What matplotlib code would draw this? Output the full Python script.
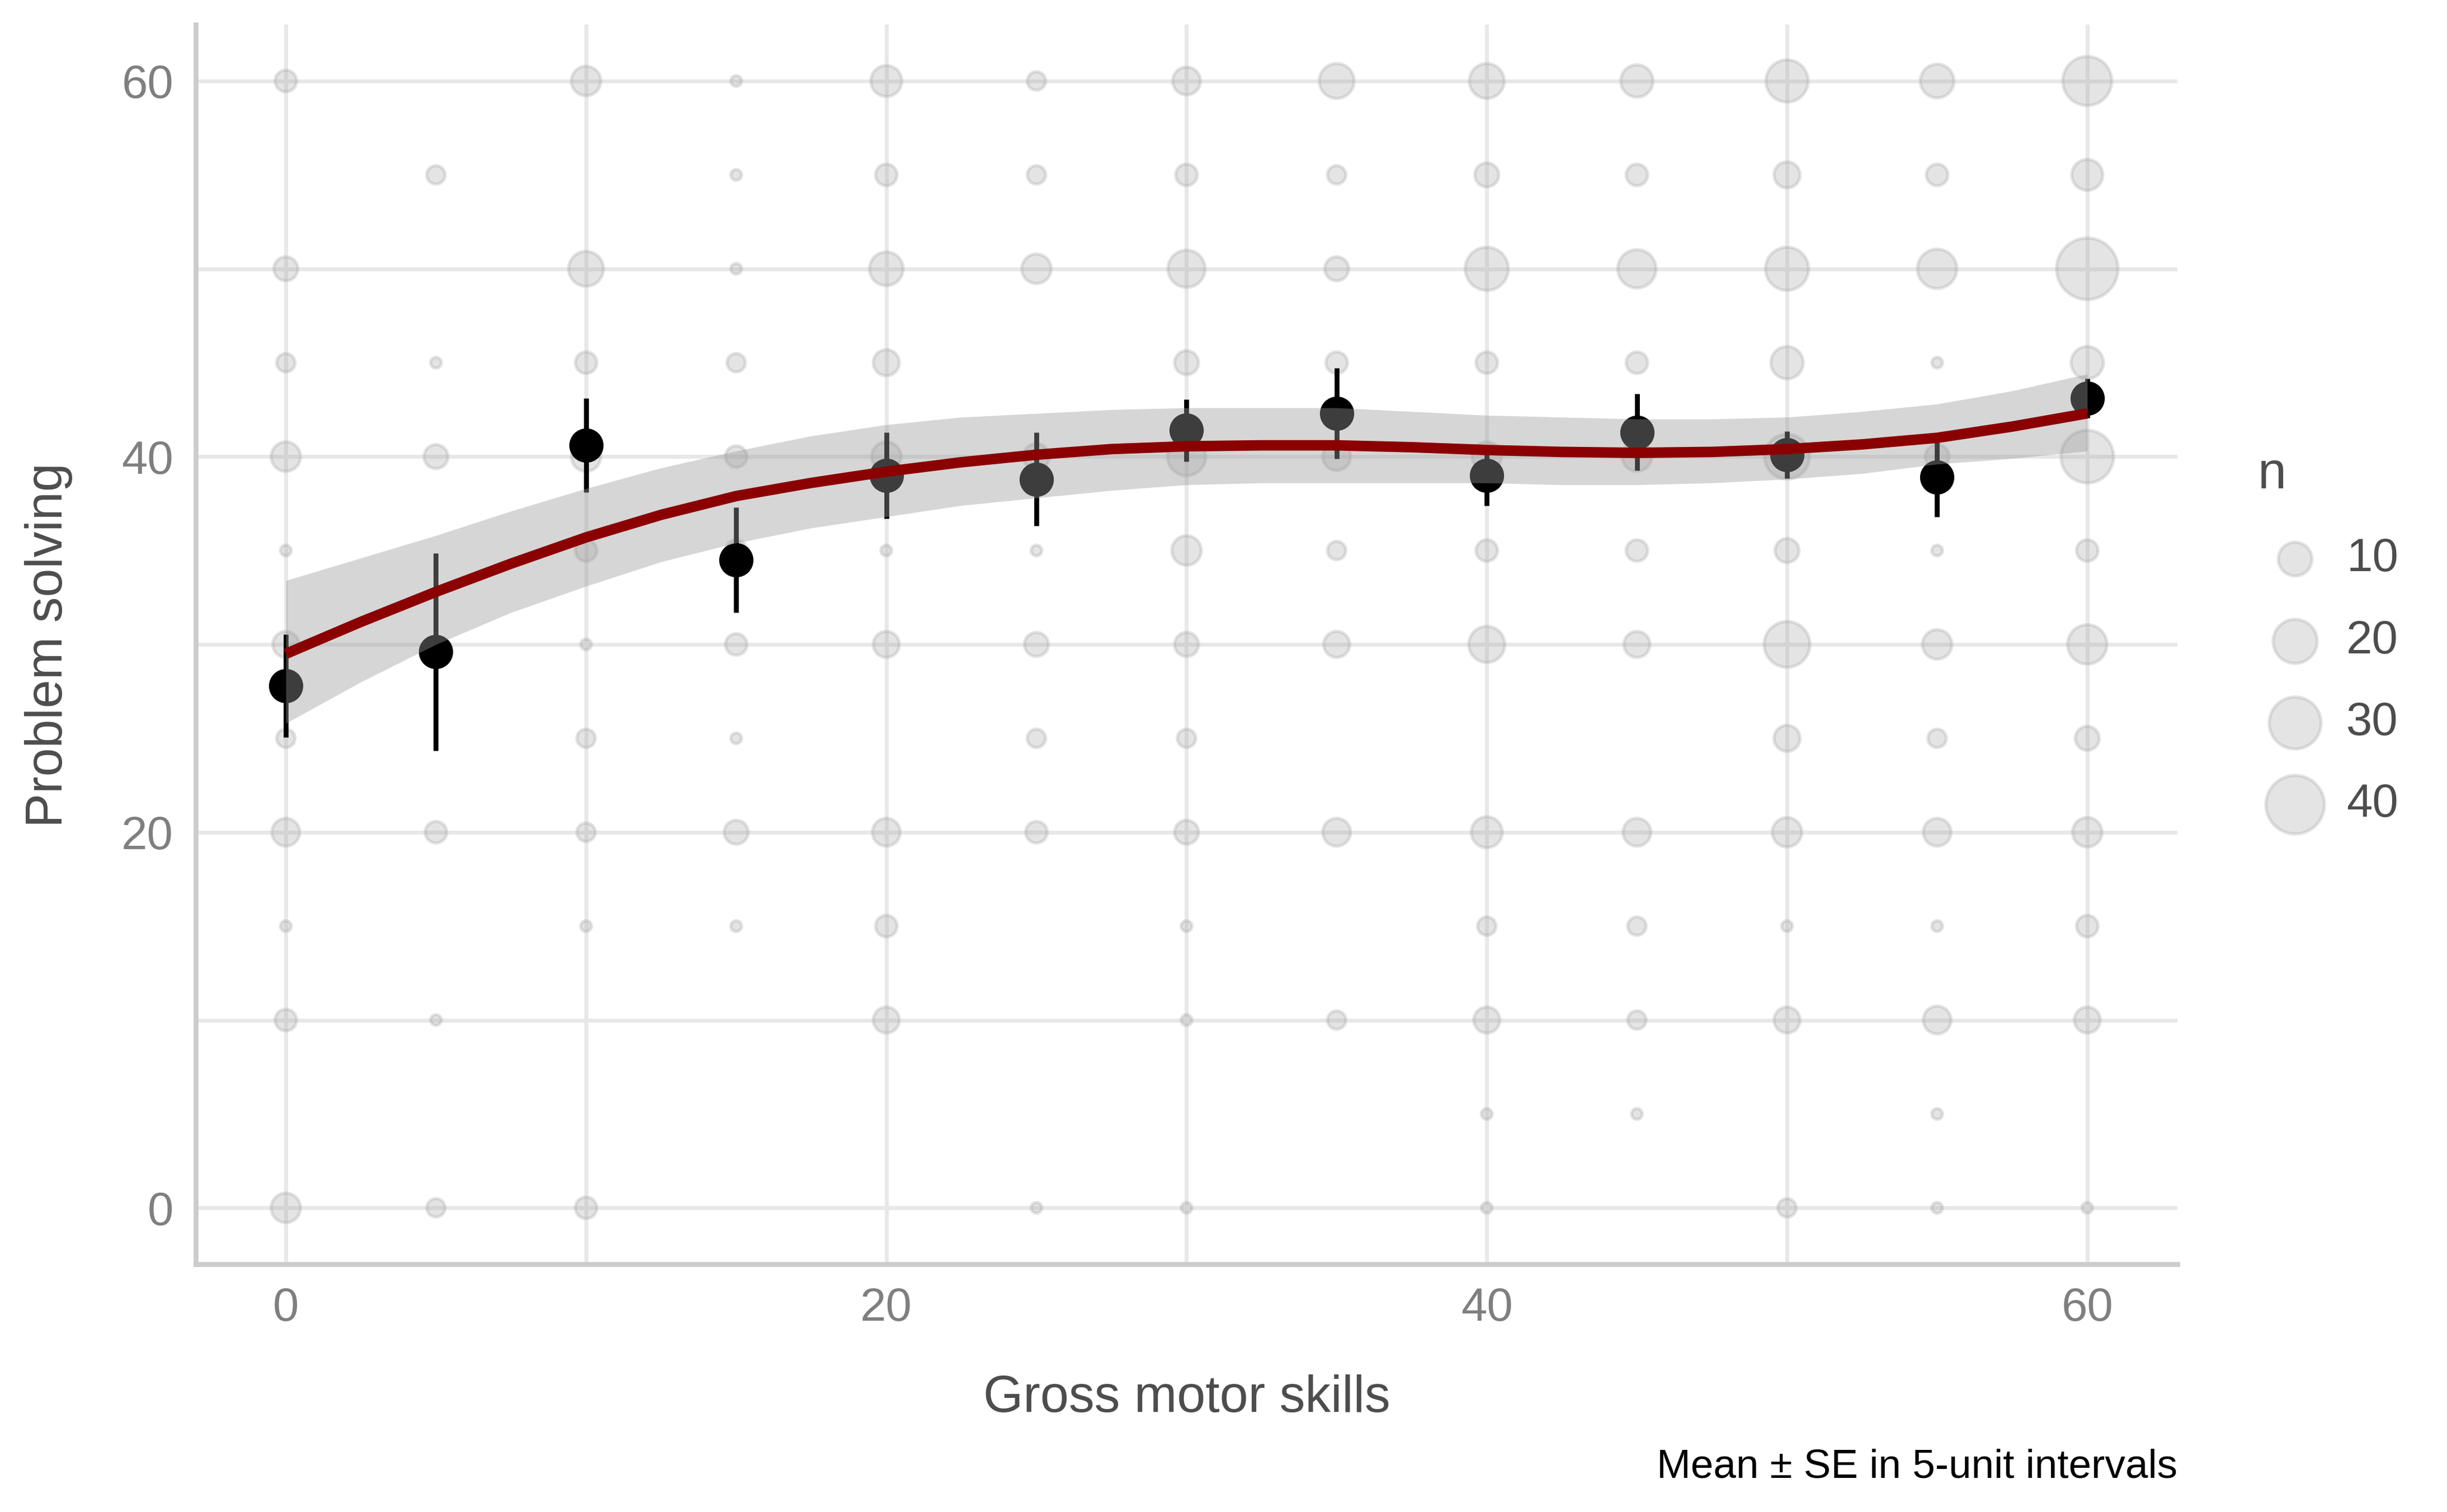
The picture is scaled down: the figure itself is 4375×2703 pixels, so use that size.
import numpy as np
import matplotlib
matplotlib.use("Agg")
import matplotlib.pyplot as plt

plt.rcParams['font.family'] = ['Liberation Sans', 'DejaVu Sans']

# grid of raw observations (counts per 5x5 cell)
grid_x = [0, 5, 10, 15, 20, 25, 30, 35, 40, 45, 50, 55, 60]
grid_y = [60, 55, 50, 45, 40, 35, 30, 25, 20, 15, 10, 5, 0]
counts = [
    [3, 0, 7, 1, 8, 2, 6, 11, 11, 9, 18, 10, 26],   # y = 60
    [0, 2, 0, 1, 3, 2, 3, 2, 4, 3, 5, 3, 8],        # y = 55
    [4, 0, 11, 1, 10, 7, 13, 4, 19, 14, 19, 15, 45],  # y = 50
    [2, 1, 3, 2, 5, 0, 4, 3, 3, 3, 9, 1, 9],        # y = 45
    [7, 4, 7, 3, 7, 5, 14, 6, 7, 7, 21, 4, 31],     # y = 40
    [1, 0, 3, 3, 1, 1, 7, 2, 3, 3, 4, 1, 3],        # y = 35
    [5, 0, 1, 3, 5, 4, 4, 5, 12, 5, 22, 7, 15],     # y = 30
    [2, 0, 2, 1, 0, 2, 2, 0, 0, 0, 5, 2, 4],        # y = 25
    [6, 3, 2, 4, 6, 3, 4, 6, 8, 6, 7, 6, 7],        # y = 20
    [1, 0, 1, 1, 3, 0, 1, 0, 2, 2, 1, 1, 3],        # y = 15
    [3, 1, 0, 0, 5, 0, 1, 2, 5, 2, 5, 6, 5],        # y = 10
    [0, 0, 0, 0, 0, 0, 0, 0, 1, 1, 0, 1, 0],        # y = 5
    [7, 2, 3, 0, 0, 1, 1, 0, 1, 0, 2, 1, 1],        # y = 0
]

# mean +- SE in 5-unit bins
bin_x = [0, 5, 10, 15, 20, 25, 30, 35, 40, 45, 50, 55, 60]
bin_mean = [27.8, 29.6, 40.6, 34.5, 39.0, 38.8, 41.4, 42.3, 39.0, 41.3, 40.1, 38.9, 43.1]
bin_se = [2.75, 5.25, 2.5, 2.8, 2.3, 2.5, 1.65, 2.4, 1.6, 2.05, 1.25, 2.1, 1.05]

# smoother with confidence band
fit_x = [0, 2.5, 5, 7.5, 10, 12.5, 15, 17.5, 20, 22.5, 25, 27.5, 30,
         32.5, 35, 37.5, 40, 42.5, 45, 47.5, 50, 52.5, 55, 57.5, 60]
fit_y = [29.5, 31.2, 32.8, 34.3, 35.7, 36.9, 37.9, 38.6, 39.2, 39.7, 40.1, 40.4, 40.55,
         40.6, 40.6, 40.5, 40.35, 40.25, 40.2, 40.25, 40.4, 40.65, 41.0, 41.6, 42.3]
fit_hi = [33.4, 34.6, 35.8, 37.1, 38.3, 39.4, 40.3, 41.1, 41.7, 42.1, 42.3, 42.5, 42.6,
          42.6, 42.6, 42.4, 42.2, 42.1, 42.0, 42.0, 42.1, 42.4, 42.8, 43.5, 44.4]
fit_lo = [25.8, 28.0, 30.0, 31.7, 33.1, 34.4, 35.4, 36.2, 36.8, 37.4, 37.8, 38.2, 38.5,
          38.6, 38.6, 38.6, 38.6, 38.5, 38.5, 38.6, 38.8, 39.1, 39.6, 39.9, 40.3]

legend_n = [10, 20, 30, 40]

DPI = 300
EDGE_LW = 1.4


def bubble_size(n):
    # diameter in px follows ggplot-like area scale, converted to scatter points^2
    n = np.asarray(n, dtype=float)
    d_px = 25 + 13.67 * np.sqrt(np.clip(n - 1, 0, None))
    d_pt = d_px * 72 / DPI - EDGE_LW
    return d_pt ** 2


fig = plt.figure(figsize=(4375 / DPI, 2703 / DPI), dpi=DPI)
ax = fig.add_axes([0.0800, 0.1639, 0.8098, 0.8198])

gx, gy = np.meshgrid(grid_x, grid_y)
cnt = np.array(counts)
mask = cnt > 0
bub_col = '#a6a6a6'
ax.scatter(gx[mask], gy[mask], s=bubble_size(cnt[mask]), color=bub_col,
           alpha=0.3, edgecolors=bub_col, linewidths=EDGE_LW, zorder=2)

ax.errorbar(bin_x, bin_mean, yerr=bin_se, fmt='o', color='black', ms=13.7,
            elinewidth=2.1, capsize=0, zorder=3)

ax.fill_between(fit_x, fit_lo, fit_hi, color='#999999', alpha=0.4, lw=0, zorder=4)
ax.plot(fit_x, fit_y, color='#8b0000', lw=4.5, zorder=5, solid_capstyle='butt',
        solid_joinstyle='round')

ax.set_xlim(-3, 63)
ax.set_ylim(-3, 63)
ax.set_xticks([0, 20, 40, 60])
ax.set_yticks([0, 20, 40, 60])
ax.set_xticks([10, 30, 50], minor=True)
ax.set_yticks([10, 30, 50], minor=True)
ax.grid(True, which='both', color='#e8e8e8', lw=1.7)
ax.set_axisbelow(True)
ax.tick_params(which='both', length=0, pad=9.6, labelsize=20, labelcolor='#7f7f7f')
for side in ['top', 'right']:
    ax.spines[side].set_visible(False)
for side in ['left', 'bottom']:
    ax.spines[side].set_color('#cccccc')
    ax.spines[side].set_linewidth(2.1)

fig.text(0.4849, 0.0751, 'Gross motor skills', fontsize=22, color='#4d4d4d',
         ha='center', va='center')
fig.text(0.0200, 0.5735, 'Problem solving', fontsize=22, color='#4d4d4d',
         ha='center', va='center', rotation=90)
fig.text(0.8898, 0.0229, 'Mean \u00b1 SE in 5-unit intervals', fontsize=17.5,
         color='black', ha='right', va='baseline')

handles = [ax.scatter([], [], s=bubble_size(v), color=bub_col, alpha=0.3,
                      edgecolors=bub_col, linewidths=EDGE_LW) for v in legend_n]
leg = fig.legend(handles, [str(v) for v in legend_n], title='n', loc='upper left',
                 bbox_to_anchor=(0.9227, 1 - 806 / 2703), frameon=False,
                 fontsize=20, title_fontsize=22, handlelength=1.6, handletextpad=0.3,
                 labelspacing=0.82, borderpad=0, borderaxespad=0, alignment='left')
leg.get_title().set_color('#4d4d4d')
for t in leg.get_texts():
    t.set_color('#4d4d4d')

fig.savefig('out.png', dpi=DPI, facecolor='white')
